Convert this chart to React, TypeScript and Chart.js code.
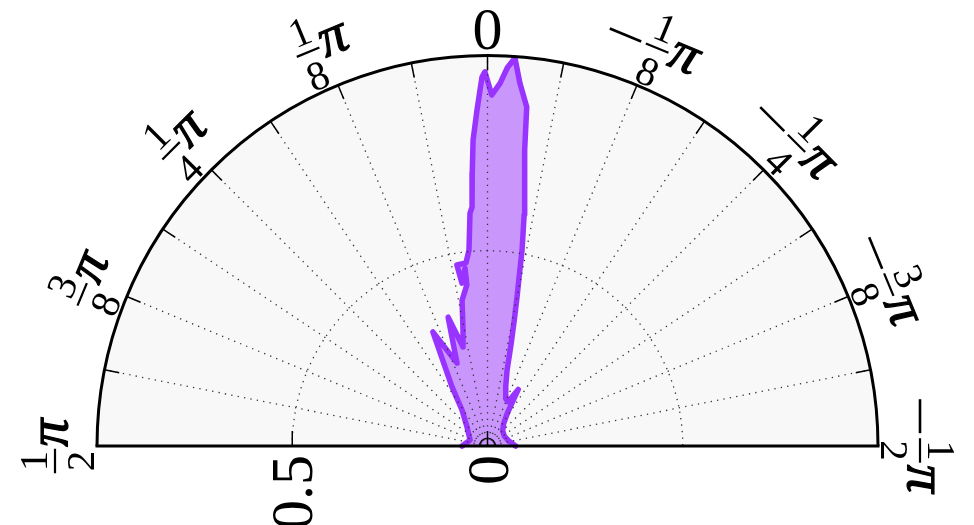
import { useEffect, useRef } from 'react';
import { Chart, registerables } from 'chart.js';

Chart.register(...registerables);

// Polar samples: angle in degrees (0 = top, positive = counter-clockwise/left), radius 0..1
const thetaDeg = [
  -90, -86, -75, -60, -45, -36, -31, -28.5, -25, -21, -17, -14.5, -13, -12, -11.2, -10.5,
  -10, -9, -8, -7.2, -6.6, -5.1, -4.05, -3, -2, -0.7, 0.4, 0.85, 1.8, 2.7, 3.2, 3.7, 4.3,
  5.4, 6.7, 9.6, 8.9, 7.2, 7.3, 9.9, 11.9, 13.9, 17, 20.2, 25.6, 31, 35.3, 47, 71, 90,
];
const radius = [
  0.072, 0.066, 0.055, 0.05, 0.055, 0.07, 0.1, 0.165, 0.125, 0.13, 0.16, 0.2, 0.27, 0.33, 0.39, 0.45,
  0.51, 0.6, 0.68, 0.764, 0.874, 0.933, 0.996, 0.97, 0.93, 0.899, 0.958, 0.945, 0.86, 0.784, 0.7, 0.613, 0.598,
  0.504, 0.472, 0.47, 0.422, 0.459, 0.416, 0.379, 0.304, 0.261, 0.345, 0.226, 0.324, 0.176, 0.113, 0.072, 0.047, 0.065,
];

// Angular ticks in units of pi/8, with their labels
const thetaTickSteps = [-4, -3, -2, -1, 0, 1, 2, 3, 4];
const thetaTickLabels = ['−1/2π', '−3/8π', '−1/4π', '−1/8π', '0', '1/8π', '1/4π', '3/8π', '1/2π'];
// Angular grid lines / minor ticks in units of pi/16
const thetaGridSteps = [-7, -6, -5, -4, -3, -2, -1, 0, 1, 2, 3, 4, 5, 6, 7];
// Radial axis
const radialTicks = [0, 0.5];
const radialTickLabels = ['0', '0.5'];
const radialGrid = [0.5];
const rMax = 1;

const SERIF = "'Liberation Serif', 'DejaVu Serif', serif";
const PI_FONT = "italic 56px 'Liberation Serif', 'DejaVu Serif', serif";
const PURPLE = 'rgb(153, 51, 255)';
const PURPLE_FILL = 'rgba(153, 51, 255, 0.5)';

function polarToXY(thDeg: number, r: number) {
  const t = (thDeg * Math.PI) / 180;
  return { x: -r * Math.sin(t), y: r * Math.cos(t) };
}

function drawMathLabel(ctx: CanvasRenderingContext2D, label: string, x: number, y: number, rot: number) {
  ctx.save();
  ctx.translate(x, y);
  ctx.rotate(rot);
  ctx.fillStyle = '#000';
  if (label.indexOf('/') < 0) {
    ctx.font = `60px ${SERIF}`;
    ctx.textAlign = 'center';
    ctx.textBaseline = 'alphabetic';
    ctx.fillText(label, 0, 20);
    ctx.restore();
    return;
  }
  let s = label;
  let neg = false;
  if (s.startsWith('−') || s.startsWith('-')) {
    neg = true;
    s = s.slice(1);
  }
  const piIdx = s.indexOf('π');
  const frac = s.slice(0, piIdx);
  const [num, den] = frac.split('/');
  const fracFont = `41px ${SERIF}`;
  ctx.font = fracFont;
  const fw = Math.max(ctx.measureText(num).width, ctx.measureText(den).width) + 4;
  ctx.font = PI_FONT;
  const pw = ctx.measureText('π').width;
  const minusW = neg ? 34 : 0;
  const gap1 = neg ? 5 : 0;
  const gap2 = 2;
  const W = minusW + gap1 + fw + gap2 + pw;
  let cx = -W / 2;
  if (neg) {
    ctx.fillRect(cx, -1.3, minusW, 2.6);
    cx += minusW + gap1;
  }
  ctx.fillRect(cx, -1.1, fw, 2.2);
  ctx.font = fracFont;
  ctx.textAlign = 'center';
  ctx.textBaseline = 'alphabetic';
  ctx.fillText(num, cx + fw / 2, -8);
  ctx.fillText(den, cx + fw / 2, 39);
  cx += fw + gap2;
  ctx.font = PI_FONT;
  ctx.textAlign = 'left';
  // slight stroke to thicken the glyph like the reference's math pi
  ctx.strokeStyle = '#000';
  ctx.lineWidth = 1.2;
  ctx.fillText('π', cx, 12);
  ctx.strokeText('π', cx, 12);
  ctx.restore();
}

const polarPlugin = {
  id: 'polarFrame',
  beforeDatasetsDraw(chart: any) {
    const { ctx, scales } = chart;
    const cx = scales.x.getPixelForValue(0);
    const cy = scales.y.getPixelForValue(0);
    const R = scales.x.getPixelForValue(rMax) - cx;
    ctx.save();
    ctx.beginPath();
    ctx.moveTo(cx - R, cy);
    ctx.arc(cx, cy, R, Math.PI, 2 * Math.PI);
    ctx.closePath();
    ctx.fillStyle = '#f8f8f8';
    ctx.fill();
    ctx.restore();
  },
  afterDatasetsDraw(chart: any) {
    const { ctx, scales } = chart;
    const cx = scales.x.getPixelForValue(0);
    const cy = scales.y.getPixelForValue(0);
    const R = scales.x.getPixelForValue(rMax) - cx;
    const pt = (th: number, rr: number) => [cx - rr * Math.sin(th), cy - rr * Math.cos(th)];
    ctx.save();
    // dotted grid
    ctx.strokeStyle = '#333';
    ctx.lineWidth = 1.3;
    ctx.setLineDash([1.3, 5.2]);
    for (const k of thetaGridSteps) {
      const th = (k * Math.PI) / 16;
      const [x1, y1] = pt(th, R);
      ctx.beginPath();
      ctx.moveTo(cx, cy);
      ctx.lineTo(x1, y1);
      ctx.stroke();
    }
    for (const rg of radialGrid) {
      const rr = scales.x.getPixelForValue(rg) - cx;
      ctx.beginPath();
      ctx.arc(cx, cy, rr, Math.PI, 2 * Math.PI);
      ctx.stroke();
    }
    ctx.setLineDash([]);
    // minor ticks on outer arc
    ctx.strokeStyle = '#000';
    ctx.lineWidth = 1.5;
    for (const k of thetaGridSteps) {
      const th = (k * Math.PI) / 16;
      const [x0, y0] = pt(th, R - 15);
      const [x1, y1] = pt(th, R);
      ctx.beginPath();
      ctx.moveTo(x0, y0);
      ctx.lineTo(x1, y1);
      ctx.stroke();
    }
    // radial ticks on baseline (left side)
    for (const rv of radialTicks) {
      const px = cx - (scales.x.getPixelForValue(rv) - cx);
      ctx.beginPath();
      ctx.moveTo(px, cy);
      ctx.lineTo(px, cy - 15);
      ctx.stroke();
    }
    // small centre ring
    ctx.lineWidth = 1.2;
    ctx.beginPath();
    ctx.arc(cx, cy, 8, Math.PI, 2 * Math.PI);
    ctx.stroke();
    // outer frame
    ctx.lineWidth = 3;
    ctx.beginPath();
    ctx.arc(cx, cy, R, Math.PI, 2 * Math.PI);
    ctx.stroke();
    ctx.beginPath();
    ctx.moveTo(cx - R - 1.5, cy);
    ctx.lineTo(cx + R + 1.5, cy);
    ctx.stroke();
    ctx.restore();
    // angular labels
    thetaTickSteps.forEach((k, i) => {
      const th = (k * Math.PI) / 8;
      const lab = thetaTickLabels[i];
      const d = lab.indexOf('/') < 0 ? R + 27 : R + 42;
      const [lx, ly] = pt(th, d);
      drawMathLabel(ctx, lab, lx, ly, -th);
    });
    // radial labels (rotated, reading upward)
    ctx.save();
    ctx.fillStyle = '#000';
    ctx.font = `60px ${SERIF}`;
    radialTicks.forEach((rv, i) => {
      const px = cx - (scales.x.getPixelForValue(rv) - cx);
      ctx.save();
      ctx.translate(px, cy + 9);
      ctx.rotate(-Math.PI / 2);
      ctx.textAlign = 'right';
      ctx.textBaseline = 'alphabetic';
      ctx.fillText(radialTickLabels[i], 0, 20);
      ctx.restore();
    });
    ctx.restore();
  },
};

export default function App() {
  const ref = useRef<HTMLCanvasElement | null>(null);
  useEffect(() => {
    if (!ref.current) return;
    const points = thetaDeg.map((t, i) => polarToXY(t, radius[i]));
    const chart = new Chart(ref.current, {
      type: 'scatter',
      data: {
        datasets: [
          {
            data: points,
            showLine: true,
            fill: 'shape',
            borderColor: PURPLE,
            backgroundColor: PURPLE_FILL,
            borderWidth: 5.5,
            borderJoinStyle: 'round',
            borderCapStyle: 'round',
            pointRadius: 0,
            tension: 0,
            clip: 10,
          } as any,
        ],
      },
      options: {
        animation: false,
        responsive: false,
        maintainAspectRatio: false,
        layout: { padding: { left: 97, right: 96, top: 55.5, bottom: 79 } },
        plugins: { legend: { display: false }, tooltip: { enabled: false } },
        scales: {
          x: { type: 'linear', min: -rMax, max: rMax, display: false },
          y: { type: 'linear', min: 0, max: rMax, display: false },
        },
      },
      plugins: [polarPlugin],
    });
    return () => chart.destroy();
  }, []);
  return (
    <div style={{ position: 'absolute', left: 0, top: 0, width: 974, height: 525, background: '#fff' }}>
      <canvas ref={ref} width={974} height={525} style={{ display: 'block', width: 974, height: 525 }} />
    </div>
  );
}
